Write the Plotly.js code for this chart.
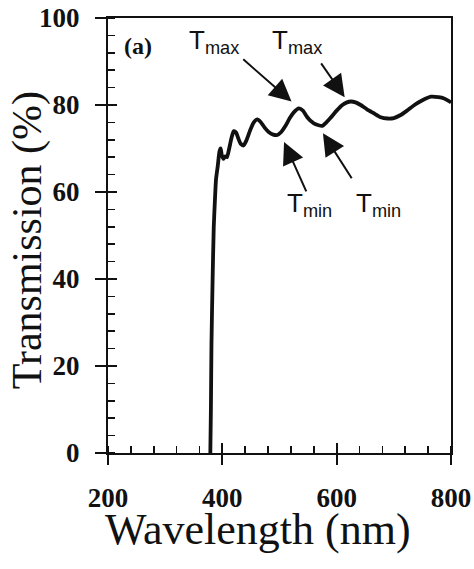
<!DOCTYPE html>
<html>
<head>
<meta charset="utf-8">
<script src="https://cdn.plot.ly/plotly-3.0.1.min.js"></script>
<style>html,body{margin:0;padding:0;background:#fff;}#chart{width:474px;height:569px;}</style>
</head>
<body>
<div id="chart"></div>
<script>
// Transmission spectrum values
const wavelength = [379,380,381,383,385,387,389,392,395,397,399,402,405,408,412,416,420,424,428,432,437,442,449,455,461,467,474,481,489,496,503,510,518,525,534,541,548,554,560,567,575,582,589,600,610,618,625,633,642,653,665,677,689,700,712,724,736,750,765,778,788,795,800];
const transmission = [0,10,25,40,52,58,63,66,69.3,70,68.5,67.6,68.2,68,70,72.4,74,73.7,72.3,71.1,70.7,71.8,74.3,76,76.7,76.1,74.8,73.8,73.2,73.1,73.8,75.1,77,78.3,79.2,78.7,77.3,76.4,75.8,75.4,75.2,76,77,78.7,80,80.6,80.8,80.6,80,79,78.1,77.2,76.9,77,77.7,78.8,80,81.1,81.9,81.8,81.5,81,80.6];

const xTickVals = [200,400,600,800];
const yTickVals = [0,20,40,60,80,100];

// annotation labels: [text, x, y]
const tmaxLabels = [["T<sub>max</sub>",338,94.6],["T<sub>max</sub>",484,94.6]];
const tminLabels = [["T<sub>min</sub>",510,57.2],["T<sub>min</sub>",630,57.2]];
// arrows: [headX, headY, tailX, tailY]
const arrows = [[521,80.8,434,90.8],[614,81.8,571,89.9],[508,71.5,548,59.8],[576,73.5,628,62.8]];

const serif = "Liberation Serif, Times New Roman, serif";
const sans = "Liberation Sans, Arial, sans-serif";
const ink = '#111';

const curve = {
  x: wavelength, y: transmission, type: 'scatter', mode: 'lines', xaxis: 'x3', yaxis: 'y3',
  line: {color: ink, width: 3.8, shape: 'spline', smoothing: 0.6},
  hoverinfo: 'skip', showlegend: false
};
// empty traces so the frame / tick axes are registered
const frameAxes = {x: [], y: [], type: 'scatter', mode: 'lines', xaxis: 'x', yaxis: 'y', showlegend: false, hoverinfo: 'skip'};
const innerTickAxes = {x: [], y: [], type: 'scatter', mode: 'lines', xaxis: 'x2', yaxis: 'y2', showlegend: false, hoverinfo: 'skip'};

const annotations = [];
tmaxLabels.concat(tminLabels).forEach(l => annotations.push({
  text: l[0], x: l[1], y: l[2], xref: 'x', yref: 'y', showarrow: false,
  xanchor: 'left', yanchor: 'middle', font: {family: sans, size: 26, color: ink}
}));
arrows.forEach(a => annotations.push({
  text: '', x: a[0], y: a[1], ax: a[2], ay: a[3], xref: 'x', yref: 'y', axref: 'x', ayref: 'y',
  showarrow: true, arrowhead: 2, arrowsize: 2.2, arrowwidth: 2, arrowcolor: ink
}));
annotations.push({text: '<b>(a)</b>', x: 252, y: 93.6, xref: 'x', yref: 'y', showarrow: false,
  font: {family: serif, size: 24, color: ink}});
annotations.push({text: 'Wavelength (nm)', x: 0.437, y: -0.175, xref: 'paper', yref: 'paper',
  showarrow: false, xanchor: 'center', yanchor: 'middle', font: {family: serif, size: 44, color: ink}});
annotations.push({text: 'Transmission (%)', x: -0.235, y: 0.49, xref: 'paper', yref: 'paper',
  showarrow: false, textangle: -90, xanchor: 'center', yanchor: 'middle', font: {family: serif, size: 42, color: ink}});

const tickFont = {family: serif, size: 27, color: ink, weight: 'bold'};
const blank = {showline: false, showgrid: false, zeroline: false};

const layout = {
  width: 474, height: 569,
  margin: {l: 108, r: 23, t: 18, b: 116},
  paper_bgcolor: '#fff', plot_bgcolor: '#fff',
  // frame, outside major ticks, inside minor ticks
  xaxis: {
    range: [200, 800], tickvals: xTickVals, ticks: 'outside', ticklen: 10, tickwidth: 2, tickcolor: ink,
    minor: {dtick: 40, tick0: 200, ticks: 'inside', ticklen: 7, tickwidth: 1.6, tickcolor: ink},
    showline: true, linewidth: 2, linecolor: ink, mirror: true, showgrid: false, zeroline: false,
    showticklabels: false
  },
  yaxis: {
    range: [0, 100], tickvals: yTickVals, ticks: 'outside', ticklen: 11, tickwidth: 2, tickcolor: ink,
    minor: {dtick: 4, tick0: 0, ticks: 'inside', ticklen: 7, tickwidth: 1.6, tickcolor: ink},
    showline: true, linewidth: 2, linecolor: ink, mirror: true, showgrid: false, zeroline: false,
    showticklabels: false
  },
  // inside half of the crossing major ticks
  xaxis2: Object.assign({range: [200, 800], overlaying: 'x', anchor: 'y', side: 'bottom', tickvals: xTickVals,
    ticks: 'inside', ticklen: 10, tickwidth: 2, tickcolor: ink, showticklabels: false}, blank),
  yaxis2: Object.assign({range: [0, 100], overlaying: 'y', anchor: 'x', side: 'left', tickvals: yTickVals,
    ticks: 'inside', ticklen: 9, tickwidth: 2, tickcolor: ink, showticklabels: false}, blank),
  // tick labels, pushed out by transparent ticks
  xaxis3: Object.assign({range: [200, 800], overlaying: 'x', anchor: 'y', side: 'bottom', tickvals: xTickVals,
    ticks: 'outside', ticklen: 21, tickcolor: 'rgba(0,0,0,0)', showticklabels: true, tickfont: tickFont}, blank),
  yaxis3: Object.assign({range: [0, 100], overlaying: 'y', anchor: 'x', side: 'left', tickvals: yTickVals,
    ticks: 'outside', ticklen: 22, tickcolor: 'rgba(0,0,0,0)', showticklabels: true, tickfont: tickFont}, blank),
  annotations: annotations
};

Plotly.newPlot('chart', [frameAxes, innerTickAxes, curve], layout, {staticPlot: true, displayModeBar: false});
</script>
</body>
</html>
